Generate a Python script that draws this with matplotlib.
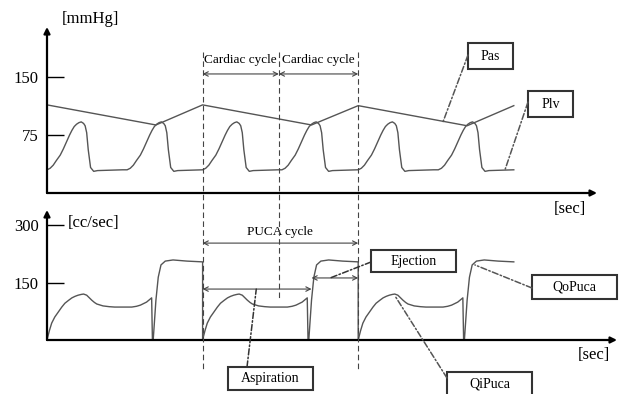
import matplotlib.pyplot as plt
from matplotlib.patches import Rectangle
from matplotlib.transforms import blended_transform_factory

plt.rcParams['font.family'] = ['Liberation Serif', 'DejaVu Serif']

# time is counted in cardiac cycles; one PUCA cycle spans two of them
# left ventricular pressure over one beat [mmHg]
plv_shape_t = [0.00, 0.04, 0.08, 0.12, 0.17, 0.21, 0.25, 0.29, 0.32, 0.35,
               0.38, 0.41, 0.44, 0.47, 0.49, 0.51, 0.53, 0.56, 0.60, 0.65, 0.97]
plv_shape_v = [30, 32, 36, 42, 49, 57, 66, 75, 81, 86,
               89, 91, 92, 90, 87, 78, 56, 33, 28, 29, 30]
beat_starts = [0.0, 1.03, 2.0, 3.02, 4.0, 5.03]

# aortic pressure [mmHg]
pas_t = [0.0, 1.40, 2.0, 3.40, 4.0, 5.40, 6.0]
pas_v = [114, 88, 114, 88, 113, 87, 113]

# PUCA inflow (QiPuca) then outflow (QoPuca) over one pump cycle [cc/sec]
flow_shape_t = [0.00, 0.03, 0.06, 0.10, 0.145, 0.19, 0.23, 0.28, 0.32, 0.36,
                0.40, 0.44, 0.47, 0.51, 0.54, 0.575, 0.61, 0.64, 0.72, 0.80,
                0.87, 1.00, 1.09, 1.15, 1.20, 1.28, 1.345, 1.355,
                1.365, 1.40, 1.43, 1.465, 1.52, 1.62, 1.80, 2.00]
flow_shape_v = [0, 24, 44, 60, 73, 86, 96, 104, 110, 114,
                117, 119, 120, 117, 111, 104, 98, 94, 89, 87,
                86, 86, 86, 88, 91, 99, 110, 0,
                0, 104, 164, 196, 206, 209, 206, 204]
puca_starts = [0.0, 2.0, 4.0]

cycle_marks = [2.0, 2.98, 4.0]
aspiration_end = 3.40

plv_t = [s + dt for s in beat_starts for dt in plv_shape_t]
plv_v = plv_shape_v * len(beat_starts)
flow_t = [s + dt for s in puca_starts for dt in flow_shape_t]
flow_v = flow_shape_v * len(puca_starts)

W, H = 623, 394
px_per_cycle = 77.8
curve = '#555555'
dark = '#333333'


def frame(left, top, right, bottom):
    return [left / W, 1 - bottom / H, (right - left) / W, (bottom - top) / H]


fig = plt.figure(figsize=(W / 100, H / 100), dpi=100)

ax1 = fig.add_axes(frame(47, 27, 597, 193))
ax1.set_xlim(0, 550 / px_per_cycle)
ax1.set_ylim(0, 166 / 0.773)
ax1.set_yticks([75, 150])

ax2 = fig.add_axes(frame(47, 210, 617, 340))
ax2.set_xlim(0, 570 / px_per_cycle)
ax2.set_ylim(0, 130 / 0.383)
ax2.set_yticks([150, 300])

for ax in (ax1, ax2):
    for sp in ax.spines.values():
        sp.set_visible(False)
    ax.set_xticks([])
    ax.tick_params(axis='y', direction='in', length=12, width=1, labelsize=12, pad=6)
    head = dict(arrowstyle='-|>', color='black', lw=1.6, mutation_scale=9,
                shrinkA=0, shrinkB=0)
    ax.annotate('', xy=(0, 1), xytext=(0, 0), xycoords='axes fraction', arrowprops=head)
    ax.annotate('', xy=(1, 0), xytext=(0, 0), xycoords='axes fraction', arrowprops=head)

ax1.plot(plv_t, plv_v, color=curve, lw=1)
ax1.plot(pas_t, pas_v, color=curve, lw=1)
ax2.plot(flow_t, flow_v, color=curve, lw=1)

span = dict(arrowstyle='<->', color='#444444', lw=0.8, mutation_scale=8,
            shrinkA=0, shrinkB=0)
for a, b in zip(cycle_marks[:-1], cycle_marks[1:]):
    ax1.annotate('', xy=(b, 154), xytext=(a, 154), arrowprops=span)
    ax1.text((a + b) / 2, 172, 'Cardiac cycle', ha='center', va='center', fontsize=9.5)

ax2.annotate('', xy=(cycle_marks[-1], 253), xytext=(cycle_marks[0], 253), arrowprops=span)
ax2.text((cycle_marks[0] + cycle_marks[-1]) / 2, 282, 'PUCA cycle',
         ha='center', va='center', fontsize=9.5)
ax2.annotate('', xy=(aspiration_end, 133), xytext=(cycle_marks[0], 133), arrowprops=span)
ax2.annotate('', xy=(cycle_marks[-1], 162), xytext=(aspiration_end, 162), arrowprops=span)

# overlay in pixel units for labels, boxes and the lines running across both panels
ov = fig.add_axes([0, 0, 1, 1])
ov.set_xlim(0, W)
ov.set_ylim(H, 0)
ov.axis('off')

trans = blended_transform_factory(ax1.transData, ov.transData)
for t, low in zip(cycle_marks, [372, 300, 372]):
    ov.plot([t, t], [52, low], transform=trans, color='#444444', lw=0.8,
            ls=(0, (5, 3)))

ov.text(62, 19, '[mmHg]', ha='left', va='center', fontsize=12)
ov.text(68, 223, '[cc/sec]', ha='left', va='center', fontsize=12)
ov.text(554, 209, '[sec]', ha='left', va='center', fontsize=12)
ov.text(578, 355, '[sec]', ha='left', va='center', fontsize=12)

boxes = [
    ('Pas', 468, 43, 513, 69),
    ('Plv', 528, 91, 573, 117),
    ('Ejection', 371, 250, 456, 272),
    ('QoPuca', 532, 275, 617, 299),
    ('QiPuca', 447, 372, 532, 396),
    ('Aspiration', 228, 367, 313, 390),
]
for label, l, t, r, b in boxes:
    ov.add_patch(Rectangle((l, t), r - l, b - t, facecolor='white',
                           edgecolor=dark, lw=1.5, zorder=3, clip_on=False))
    ov.text((l + r) / 2, (t + b) / 2, label, ha='center', va='center',
            fontsize=10, zorder=4)

leaders = [
    ((468, 55), ax1, (5.09, 92), '#555555'),
    ((528, 102), ax1, (5.89, 31), '#555555'),
    ((371, 262), ax2, (3.64, 162), dark),
    ((532, 288), ax2, (5.50, 196), '#555555'),
    ((447, 378), ax2, (4.47, 116), '#555555'),
    ((247, 367), ax2, (2.69, 133), dark),
]
for start, ax, end, col in leaders:
    ov.annotate('', xy=end, xycoords=ax.transData, xytext=start, textcoords='data',
                arrowprops=dict(arrowstyle='-', color=col, lw=1.1,
                                ls=(0, (4, 1.5, 1, 1.5)), shrinkA=0, shrinkB=0))

fig.savefig('out.png', dpi=100)
